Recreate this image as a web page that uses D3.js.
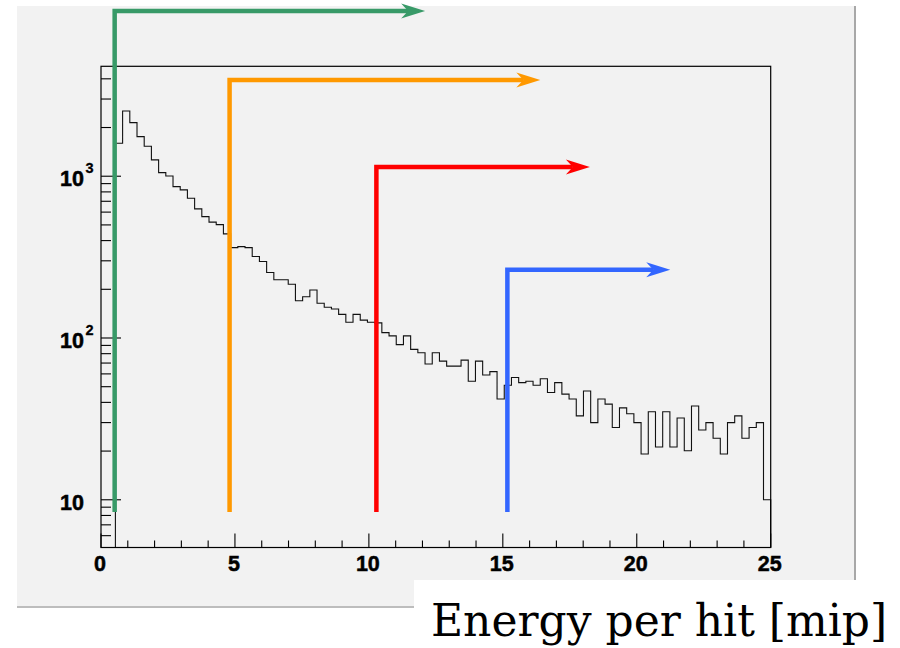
<!DOCTYPE html>
<html>
<head>
<meta charset="utf-8">
<script src="https://cdn.jsdelivr.net/npm/d3@7"></script>
<style>
  html, body { margin: 0; padding: 0; background: #ffffff; }
  svg { display: block; }
</style>
</head>
<body>
<svg id="chart" width="900" height="648"></svg>
<script>
// Histogram of energy deposited per hit, 93 equal bins over [0, 25] mip
const xRange = [0, 25];
const binCount = 93;
const counts = [
  0, 0, 1599, 2532, 2144, 1757, 1532, 1261, 1052, 1004,
  862, 823, 731, 628, 563, 520, 502, 440, 362, 367,
  362, 319, 297, 254, 229, 229, 215, 170, 180, 198,
  164, 155, 151, 140, 125, 140, 129, 125, 124, 108,
  103, 91, 103, 85, 81, 69, 81, 72, 67, 67,
  73, 54, 72, 59, 62, 42, 51, 57, 53, 54,
  51, 56, 46, 53, 45, 42, 33, 47, 30, 42,
  39, 28, 37, 34, 30, 19.2, 35, 21.2, 35, 21.2,
  32, 20.1, 38, 27, 30, 24, 19.2, 30, 33, 24,
  28, 30, 10
];

// Threshold markers: cut position, height of the bracket, end of the arrow
const cutPositions = [0.51, 4.8, 10.28, 15.17];
const cutTops = [10500, 3940, 1140, 264];
const cutArrowEnds = [12.1, 16.4, 18.25, 21.25];
const cutColors = ["#389a68", "#ff9900", "#ff0000", "#3366ff"];
const cutBottom = 8.4;

// Axis ticks
const xMajorTicks = [0, 5, 10, 15, 20, 25];
const xMinorTicks = d3.range(0, 26);
const yMajorTicks = [10, 100, 1000];
const yMinorTicks = [6, 7, 8, 9, 20, 30, 40, 50, 60, 70, 80, 90,
                     200, 300, 400, 500, 600, 700, 800, 900, 2000, 3000, 4000];
const yLabelBase = "10";
const yLabelExponent = { 10: "", 100: "2", 1000: "3" };
const xTitle = "Energy per hit [mip]";

const svg = d3.select("#chart");

const frame = { left: 101, right: 770.7, top: 66.3, bottom: 547.5 };

const x = d3.scaleLinear().domain(xRange).range([frame.left, frame.right]);
const y = d3.scaleLog().domain([5.07, 4780]).range([frame.bottom, frame.top]);

// Canvas panel
svg.append("rect")
  .attr("x", 17).attr("y", 6).attr("width", 838).attr("height", 601)
  .attr("fill", "#f2f2f2");
svg.append("line")
  .attr("x1", 855).attr("x2", 855).attr("y1", 6).attr("y2", 607)
  .attr("stroke", "#a8a8a8").attr("stroke-width", 2);
svg.append("line")
  .attr("x1", 17).attr("x2", 856).attr("y1", 607).attr("y2", 607)
  .attr("stroke", "#bdbdbd").attr("stroke-width", 2);

// Histogram as a step outline
const binWidth = (xRange[1] - xRange[0]) / binCount;
const yFloor = y.domain()[0];
const pts = [[x(xRange[0]), y(yFloor)]];
counts.forEach((c, i) => {
  const v = c > 0 ? c : yFloor;
  const x0 = x(xRange[0] + i * binWidth);
  const x1 = x(xRange[0] + (i + 1) * binWidth);
  pts.push([x0, y(v)], [x1, y(v)]);
});
pts.push([x(xRange[1]), y(yFloor)]);
svg.append("path")
  .attr("d", d3.line()(pts))
  .attr("fill", "none")
  .attr("stroke", "#111")
  .attr("stroke-width", 1.1);

// Frame
svg.append("rect")
  .attr("x", frame.left).attr("y", frame.top)
  .attr("width", frame.right - frame.left).attr("height", frame.bottom - frame.top)
  .attr("fill", "none").attr("stroke", "#000").attr("stroke-width", 1.2);

// X axis ticks (drawn inward)
const axisG = svg.append("g").attr("stroke", "#000").attr("stroke-width", 1.1);
xMinorTicks.forEach(t => {
  const len = xMajorTicks.includes(t) ? 14 : 7;
  axisG.append("line")
    .attr("x1", x(t)).attr("x2", x(t))
    .attr("y1", frame.bottom).attr("y2", frame.bottom - len);
});
// Y axis ticks
yMajorTicks.forEach(t => {
  axisG.append("line")
    .attr("x1", frame.left).attr("x2", frame.left + 20)
    .attr("y1", y(t)).attr("y2", y(t));
});
yMinorTicks.forEach(t => {
  axisG.append("line")
    .attr("x1", frame.left).attr("x2", frame.left + 10)
    .attr("y1", y(t)).attr("y2", y(t));
});

// Tick labels (heavy sans, slightly outlined for weight)
const labelFont = "'Liberation Sans', Arial, sans-serif";
function styleLabel(sel, size) {
  return sel
    .attr("font-family", labelFont)
    .attr("font-weight", "bold")
    .attr("font-size", size)
    .attr("fill", "#000")
    .attr("stroke", "#000")
    .attr("stroke-width", 0.5);
}
styleLabel(
  svg.append("g").selectAll("text").data(xMajorTicks).join("text")
    .attr("x", d => x(d) - 1)
    .attr("y", 570.5)
    .attr("text-anchor", "middle"),
  21.5
).text(d => d);

yMajorTicks.forEach(t => {
  styleLabel(
    svg.append("text")
      .attr("x", 84).attr("y", y(t) + 10)
      .attr("text-anchor", "end"),
    21.5
  ).text(yLabelBase);
  if (yLabelExponent[t]) {
    styleLabel(
      svg.append("text")
        .attr("x", 85.5).attr("y", y(t) - 3),
      14.5
    ).attr("stroke-width", 0.3).text(yLabelExponent[t]);
  }
});

// Threshold brackets with arrows
const headLen = 24, headHalf = 7.5, notch = 7;
cutPositions.forEach((c, i) => {
  const cx = x(c);
  const top = y(cutTops[i]);
  const bottom = y(cutBottom);
  const tip = x(cutArrowEnds[i]);
  svg.append("path")
    .attr("d", d3.line()([[cx, bottom], [cx, top], [tip - headLen + notch, top]]))
    .attr("fill", "none")
    .attr("stroke", cutColors[i])
    .attr("stroke-width", 4.5)
    .attr("stroke-linejoin", "miter")
    .attr("stroke-linecap", "butt");
  svg.append("path")
    .attr("d", `M${tip},${top} L${tip - headLen},${top - headHalf} L${tip - headLen + notch},${top} L${tip - headLen},${top + headHalf} Z`)
    .attr("fill", cutColors[i]);
});

// Axis title on a white plate
svg.append("rect")
  .attr("x", 414).attr("y", 580).attr("width", 486).attr("height", 68)
  .attr("fill", "#ffffff");
svg.append("text")
  .attr("x", 431).attr("y", 636)
  .attr("font-family", "'DejaVu Serif', 'Liberation Serif', serif")
  .attr("font-size", 44)
  .attr("fill", "#000")
  .text(xTitle);
</script>
</body>
</html>
